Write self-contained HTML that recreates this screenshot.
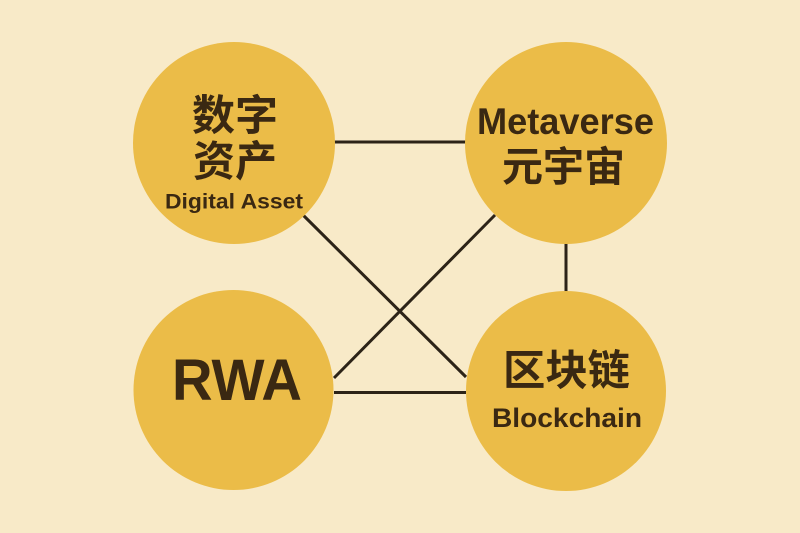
<!DOCTYPE html>
<html><head><meta charset="utf-8"><style>
html,body{margin:0;padding:0;background:#f8eac8;}
svg{display:block;}
text{font-family:"Liberation Sans","Noto Sans CJK SC",sans-serif;font-weight:bold;fill:#3a2812;}
</style></head><body>
<svg width="800" height="533" viewBox="0 0 800 533" xmlns="http://www.w3.org/2000/svg">
<rect width="800" height="533" fill="#f8eac8"/>
<g stroke="#2c2317" stroke-width="3" fill="none" stroke-linecap="butt">
<line x1="334" y1="142" x2="466" y2="142"/>
<line x1="334" y1="392.5" x2="466" y2="392.5"/>
<line x1="566" y1="243" x2="566" y2="292"/>
<line x1="303" y1="215" x2="466" y2="377"/>
<line x1="495" y1="215" x2="334" y2="378"/>
</g>
<g fill="#ebbc48">
<circle cx="234" cy="143" r="101"/>
<circle cx="566" cy="143" r="101"/>
<circle cx="233.5" cy="390" r="100"/>
<circle cx="566" cy="391" r="100"/>
</g>
<text x="235" y="130" font-size="42" text-anchor="middle" textLength="86" lengthAdjust="spacingAndGlyphs">数字</text>
<text x="235" y="176" font-size="42" text-anchor="middle" textLength="84" lengthAdjust="spacingAndGlyphs">资产</text>
<text x="234" y="208.5" font-size="21" text-anchor="middle" textLength="138" lengthAdjust="spacingAndGlyphs">Digital Asset</text>
<text x="565.5" y="134" font-size="37" text-anchor="middle" textLength="177" lengthAdjust="spacingAndGlyphs">Metaverse</text>
<text x="563.5" y="181" font-size="41" text-anchor="middle" textLength="123" lengthAdjust="spacingAndGlyphs">元宇宙</text>
<text x="237" y="400" font-size="58" text-anchor="middle" textLength="130" lengthAdjust="spacingAndGlyphs">RWA</text>
<text x="566.5" y="385" font-size="42" text-anchor="middle" textLength="127" lengthAdjust="spacingAndGlyphs">区块链</text>
<text x="567" y="427" font-size="27" text-anchor="middle" textLength="150" lengthAdjust="spacingAndGlyphs">Blockchain</text>
</svg>
</body></html>
